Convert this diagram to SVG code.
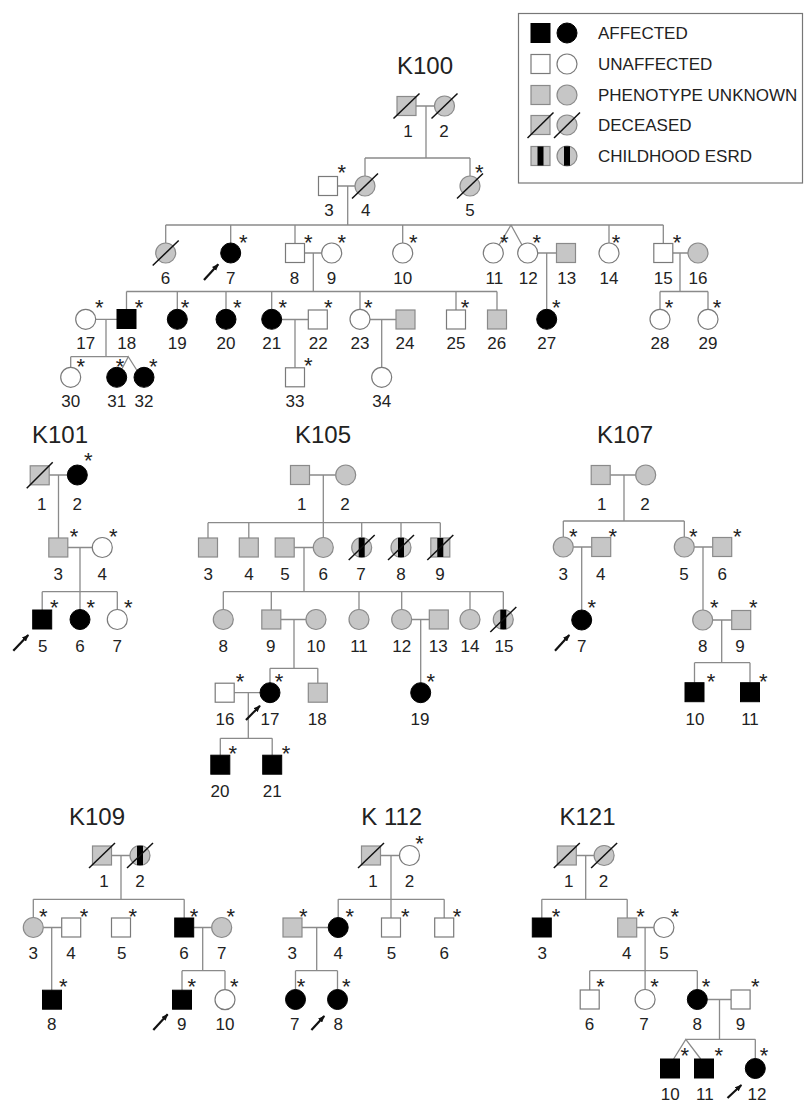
<svg xmlns="http://www.w3.org/2000/svg" width="805" height="1102" viewBox="0 0 805 1102">
<defs>
<style>
.ln{stroke:#8a8a8a;stroke-width:1.3;fill:none}
.u{fill:#fff;stroke:#7a7a7a;stroke-width:1.2}
.a{fill:#000;stroke:#000;stroke-width:1}
.g{fill:#c6c6c6;stroke:#8a8a8a;stroke-width:1.2}
.d{stroke:#111;stroke-width:1.5}
.b{fill:#000}
.t{font-family:"Liberation Sans",Arial,sans-serif;font-size:17px;fill:#222;text-anchor:middle}
.s{font-family:"Liberation Sans",Arial,sans-serif;font-size:22px;fill:#222;text-anchor:middle}
.h{font-family:"Liberation Sans",Arial,sans-serif;font-size:24px;fill:#222;text-anchor:middle}
.lg{font-family:"Liberation Sans",Arial,sans-serif;font-size:17px;fill:#222}
.ar{stroke:#111;stroke-width:2.2;marker-end:url(#ah)}
</style>
<marker id="ah" viewBox="0 0 10 8" refX="9" refY="4" markerWidth="7" markerHeight="6" markerUnits="userSpaceOnUse" orient="auto"><path d="M0,0 L10,4 L0,8 z" fill="#111"/></marker>
</defs>
<rect width="805" height="1102" fill="#fff"/>

<g id="legend">
<rect x="518.5" y="13.5" width="284" height="169.5" fill="#fff" stroke="#777" stroke-width="1.2"/>
<rect class="a" x="531" y="23.5" width="19" height="19"/><circle class="a" cx="567" cy="33" r="10"/><text class="lg" x="598" y="39">AFFECTED</text>
<rect class="u" x="531" y="54.5" width="19" height="19"/><circle class="u" cx="567" cy="64" r="10"/><text class="lg" x="598" y="70">UNAFFECTED</text>
<rect class="g" x="531" y="85.5" width="19" height="19"/><circle class="g" cx="567" cy="95" r="10"/><text class="lg" x="598" y="101">PHENOTYPE UNKNOWN</text>
<rect class="g" x="531" y="115.5" width="19" height="19"/><line class="d" x1="527.5" y1="138" x2="553.5" y2="112.5"/><circle class="g" cx="567" cy="125" r="10"/><line class="d" x1="554" y1="138" x2="580" y2="112.5"/><text class="lg" x="598" y="131">DECEASED</text>
<rect class="g" x="531" y="146.5" width="19" height="19"/><rect class="b" x="537.5" y="146.5" width="6" height="19"/><circle class="g" cx="567" cy="156" r="10"/><rect class="b" x="564" y="146.3" width="6" height="19.4"/><text class="lg" x="598" y="162">CHILDHOOD ESRD</text>
</g>

<g id="titles">
<text class="h" x="425" y="74">K100</text>
<text class="h" x="60" y="443">K101</text>
<text class="h" x="323" y="443">K105</text>
<text class="h" x="625" y="443">K107</text>
<text class="h" x="97" y="825">K109</text>
<text class="h" x="391.7" y="825">K 112</text>
<text class="h" x="587.5" y="825">K121</text>
</g>

<g id="connectors">
<path class="ln" d="M416 106H434.5M426 106V158M365 158H470M365 158V176M470 158V176M337.5 186H355M347.7 186V225M165.7 225H663.3M165.7 225V243M230.7 225V243M295 225V243.5M402.7 225V243M609 225V243M663.3 225V243.5M499 245L511 225L522 245M304.5 253H321.7M313.3 253V291.5M126.5 291.5H497M126.5 291.5V309.5M177.3 291.5V309.3M226 291.5V309.3M271.7 291.5V309.3M360 291.5V309.3M456 291.5V310M497 291.5V310M537.7 253H556.5M546.7 253V309.3M672.8 253H688M680 253V291.5M660 291.5H708M660 291.5V309.3M708 291.5V309.3M95.7 319.3H117M106 319.3V356.7M70.7 356.7H128.3M70.7 356.7V367.3M121.7 369.3L128.3 356.7L136.7 370M281.7 319.5H308.3M295 319.5V367.8M370 319.5H396M381.7 319.5V367.3"/>
<path class="ln" d="M49.2 475H67.3M58.5 475V538M67.8 547.5H92.3M80 547.5V591.7M42.2 591.7H117.3M42.2 591.7V610M80 591.7V609.5M117.3 591.7V609.5"/>
<path class="ln" d="M309.5 475H335.7M323.3 475V522.7M208 522.7H440.3M208 522.7V538M248.8 522.7V538M323.3 522.7V537.5M361.7 522.7V537.5M401 522.7V537.5M440.3 522.7V538M294.2 547.5H313.3M304 547.5V591.7M223.3 591.7H503.3M223.3 591.7V609.5M271.3 591.7V610M359 591.7V609.5M401.7 591.7V609.5M470 591.7V609.5M503.3 591.7V609.5M281 619.5H306M294 619.5V668.3M270 668.3H317.8M270 668.3V682.7M317.8 668.3V683.2M411.7 619.5H429.3M420.7 619.5V682.7M234.2 692.7H260M248.3 692.7V738.3M220.3 738.3H272.2M220.3 738.3V755.2M272.2 738.3V755.2"/>
<path class="ln" d="M610.2 475H635.7M624 475V521M563.3 521H684.3M563.3 521V537M684.3 521V537M573.3 547H591.7M581.7 547V610M694.3 547H712.7M703 547V610M712.7 620H731.7M721.7 620V662.7M694.5 662.7H750M694.5 662.7V682.7M750 662.7V682.7"/>
<path class="ln" d="M111.5 855.5H130M121 855.5V899.3M33.3 899.3H184.2M33.3 899.3V917.5M184.2 899.3V918M43.3 927.5H61.7M51.7 927.5V990.2M193.7 927.5H211.7M202.7 927.5V970.7M182 970.7H225M182 970.7V990.2M225 970.7V989.7"/>
<path class="ln" d="M380.5 855.5H399.5M391 855.5V899.3M338.2 899.3H444.2M338.2 899.3V917.5M391 899.3V918M444.2 899.3V918M302 927.5H328.2M316.7 927.5V970.7M295.5 970.7H337.5M295.5 970.7V989.5M337.5 970.7V989.5"/>
<path class="ln" d="M576.3 855.5H594.1M585.7 855.5V899.3M541.8 899.3H627.2M541.8 899.3V918M627.2 899.3V918M636.7 927.5H653.9M645.1 927.5V970.7M589.7 970.7H697.3M589.7 970.7V990M645.1 970.7V989.5M697.3 970.7V989.5M707.3 999.5H731.1M719.5 999.5V1039.3M685.8 1039.3H755.3M755.3 1039.3V1058.5M673.6 1059L685.8 1039.3L700.7 1059"/>
</g>

<g id="k100">
<g id="k100-1"><rect class="g" x="397" y="96.5" width="19" height="19"/><line class="d" x1="393.5" y1="118.5" x2="419.5" y2="93.5"/><text class="t" x="408" y="137">1</text></g>
<g id="k100-2"><circle class="g" cx="444.5" cy="106" r="10"/><line class="d" x1="431.5" y1="118.5" x2="457.5" y2="93.5"/><text class="t" x="444" y="137">2</text></g>
<g id="k100-3"><rect class="u" x="318.5" y="176.5" width="19" height="19"/><text class="s" x="341.7" y="179.5">*</text><text class="t" x="329" y="216">3</text></g>
<g id="k100-4"><circle class="g" cx="365" cy="186" r="10"/><line class="d" x1="352" y1="198.5" x2="378" y2="173.5"/><text class="t" x="365.7" y="216">4</text></g>
<g id="k100-5"><circle class="g" cx="470" cy="186" r="10"/><line class="d" x1="457" y1="198.5" x2="483" y2="173.5"/><text class="s" x="479.3" y="179.5">*</text><text class="t" x="470" y="216">5</text></g>
<g id="k100-6"><circle class="g" cx="165.7" cy="253" r="10"/><line class="d" x1="152.7" y1="265.5" x2="178.7" y2="240.5"/><text class="t" x="165.5" y="283.5">6</text></g>
<g id="k100-7"><circle class="a" cx="230.7" cy="253" r="10"/><text class="s" x="243.3" y="249.5">*</text><text class="t" x="230.7" y="283.5">7</text><line class="ar" x1="204" y1="280" x2="218.3" y2="264.3"/></g>
<g id="k100-8"><rect class="u" x="285.5" y="243.5" width="19" height="19"/><text class="s" x="308.3" y="249.5">*</text><text class="t" x="294.5" y="283.5">8</text></g>
<g id="k100-9"><circle class="u" cx="331.7" cy="253" r="10"/><text class="s" x="341.7" y="249.5">*</text><text class="t" x="331.5" y="283.5">9</text></g>
<g id="k100-10"><circle class="u" cx="402.7" cy="253" r="10"/><text class="s" x="413.3" y="249.5">*</text><text class="t" x="402.7" y="283.5">10</text></g>
<g id="k100-11"><circle class="u" cx="493.3" cy="253" r="10"/><text class="s" x="504.3" y="249.5">*</text><text class="t" x="494.3" y="283.5">11</text></g>
<g id="k100-12"><circle class="u" cx="527.7" cy="253" r="10"/><text class="s" x="536.7" y="249.5">*</text><text class="t" x="528.3" y="283.5">12</text></g>
<g id="k100-13"><rect class="g" x="556.5" y="243.5" width="19" height="19"/><text class="t" x="566.7" y="283.5">13</text></g>
<g id="k100-14"><circle class="u" cx="609" cy="253" r="10"/><text class="s" x="616" y="249.5">*</text><text class="t" x="609" y="283.5">14</text></g>
<g id="k100-15"><rect class="u" x="653.8" y="243.5" width="19" height="19"/><text class="s" x="677" y="249.5">*</text><text class="t" x="663.3" y="283.5">15</text></g>
<g id="k100-16"><circle class="g" cx="698" cy="253" r="10"/><text class="t" x="698" y="283.5">16</text></g>
<g id="k100-17"><circle class="u" cx="85.7" cy="319.3" r="10"/><text class="s" x="99.3" y="315.2">*</text><text class="t" x="85.7" y="348.5">17</text></g>
<g id="k100-18"><rect class="a" x="117" y="309.5" width="19" height="19"/><text class="s" x="139" y="315.2">*</text><text class="t" x="126.7" y="348.5">18</text></g>
<g id="k100-19"><circle class="a" cx="177.3" cy="319.3" r="10"/><text class="s" x="185" y="315.2">*</text><text class="t" x="177.3" y="348.5">19</text></g>
<g id="k100-20"><circle class="a" cx="226" cy="319.3" r="10"/><text class="s" x="237.3" y="315.2">*</text><text class="t" x="226" y="348.5">20</text></g>
<g id="k100-21"><circle class="a" cx="271.7" cy="319.3" r="10"/><text class="s" x="282.7" y="315.2">*</text><text class="t" x="271.7" y="348.5">21</text></g>
<g id="k100-22"><rect class="u" x="308.3" y="310" width="19" height="19"/><text class="s" x="328.3" y="315.2">*</text><text class="t" x="318.3" y="348.5">22</text></g>
<g id="k100-23"><circle class="u" cx="360" cy="319.3" r="10"/><text class="s" x="368.3" y="315.2">*</text><text class="t" x="360" y="348.5">23</text></g>
<g id="k100-24"><rect class="g" x="396" y="310" width="19" height="19"/><text class="t" x="405" y="348.5">24</text></g>
<g id="k100-25"><rect class="u" x="446.5" y="310" width="19" height="19"/><text class="s" x="465" y="315.2">*</text><text class="t" x="456" y="348.5">25</text></g>
<g id="k100-26"><rect class="g" x="487.5" y="310" width="19" height="19"/><text class="t" x="496.7" y="348.5">26</text></g>
<g id="k100-27"><circle class="a" cx="546.7" cy="319.3" r="10"/><text class="s" x="556.3" y="315.2">*</text><text class="t" x="546.7" y="348.5">27</text></g>
<g id="k100-28"><circle class="u" cx="660" cy="319.3" r="10"/><text class="s" x="669" y="315.2">*</text><text class="t" x="660" y="348.5">28</text></g>
<g id="k100-29"><circle class="u" cx="708" cy="319.3" r="10"/><text class="s" x="717" y="315.2">*</text><text class="t" x="708" y="348.5">29</text></g>
<g id="k100-30"><circle class="u" cx="70.7" cy="377.3" r="10"/><text class="s" x="80.7" y="374.2">*</text><text class="t" x="70.7" y="406.5">30</text></g>
<g id="k100-31"><circle class="a" cx="116.7" cy="377.3" r="10" fill="#1a1a1a"/><text class="s" x="120" y="374.2">*</text><text class="t" x="116.7" y="406.5">31</text></g>
<g id="k100-32"><circle class="a" cx="144" cy="377.3" r="10"/><text class="s" x="153.3" y="374.2">*</text><text class="t" x="144" y="406.5">32</text></g>
<g id="k100-33"><rect class="u" x="285.5" y="367.8" width="19" height="19"/><text class="s" x="308.3" y="372.5">*</text><text class="t" x="295" y="406.5">33</text></g>
<g id="k100-34"><circle class="u" cx="381.7" cy="377.3" r="10"/><text class="t" x="381.7" y="406.5">34</text></g>
</g>

<g id="k101">
<g id="k101-1"><rect class="g" x="30.2" y="465.8" width="19" height="19"/><line class="d" x1="26.7" y1="488.3" x2="52.7" y2="462.3"/><text class="t" x="41.7" y="510">1</text></g>
<g id="k101-2"><circle class="a" cx="77.3" cy="475" r="10"/><text class="s" x="88.3" y="467.5">*</text><text class="t" x="77.3" y="510">2</text></g>
<g id="k101-3"><rect class="g" x="48.8" y="538" width="19" height="19"/><text class="s" x="74" y="544.2">*</text><text class="t" x="58.3" y="580">3</text></g>
<g id="k101-4"><circle class="u" cx="102.3" cy="547.5" r="10"/><text class="s" x="113.3" y="544.2">*</text><text class="t" x="102.3" y="580">4</text></g>
<g id="k101-5"><rect class="a" x="32.7" y="610" width="19" height="19"/><text class="s" x="54.3" y="615.2">*</text><text class="t" x="42.7" y="651.7">5</text><line class="ar" x1="13.3" y1="650.7" x2="28.3" y2="635"/></g>
<g id="k101-6"><circle class="a" cx="80" cy="619.5" r="10"/><text class="s" x="90.7" y="615.2">*</text><text class="t" x="80" y="651.7">6</text></g>
<g id="k101-7"><circle class="u" cx="117.3" cy="619.5" r="10"/><text class="s" x="128.3" y="615.2">*</text><text class="t" x="117.3" y="651.7">7</text></g>
</g>

<g id="k105">
<g id="k105-1"><rect class="g" x="290.5" y="465.5" width="19" height="19"/><text class="t" x="301.7" y="510">1</text></g>
<g id="k105-2"><circle class="g" cx="345.7" cy="475" r="10"/><text class="t" x="345" y="510">2</text></g>
<g id="k105-3"><rect class="g" x="198.5" y="538" width="19" height="19"/><text class="t" x="208.3" y="580">3</text></g>
<g id="k105-4"><rect class="g" x="239.3" y="538" width="19" height="19"/><text class="t" x="249" y="580">4</text></g>
<g id="k105-5"><rect class="g" x="275.2" y="538" width="19" height="19"/><text class="t" x="285" y="580">5</text></g>
<g id="k105-6"><circle class="g" cx="323.3" cy="547.5" r="10"/><text class="t" x="323.3" y="580">6</text></g>
<g id="k105-7"><circle class="g" cx="361.7" cy="547.5" r="10"/><rect class="b" x="358.7" y="537.8" width="6" height="19.4"/><line class="d" x1="348.7" y1="560" x2="374.7" y2="535"/><text class="t" x="361" y="580">7</text></g>
<g id="k105-8"><circle class="g" cx="401" cy="547.5" r="10"/><rect class="b" x="398" y="537.8" width="6" height="19.4"/><line class="d" x1="388" y1="560" x2="414" y2="535"/><text class="t" x="401" y="580">8</text></g>
<g id="k105-9"><rect class="g" x="430.8" y="538" width="19" height="19"/><rect class="b" x="437.3" y="538" width="6" height="19"/><line class="d" x1="427.3" y1="560" x2="453.3" y2="535"/><text class="t" x="440" y="580">9</text></g>
<g id="k105-8b"><circle class="g" cx="223.3" cy="619.5" r="10"/><text class="t" x="223.3" y="651.7">8</text></g>
<g id="k105-9b"><rect class="g" x="261.8" y="610" width="19" height="19"/><text class="t" x="270.7" y="651.7">9</text></g>
<g id="k105-10"><circle class="g" cx="316" cy="619.5" r="10"/><text class="t" x="316" y="651.7">10</text></g>
<g id="k105-11"><circle class="g" cx="359" cy="619.5" r="10"/><text class="t" x="359" y="651.7">11</text></g>
<g id="k105-12"><circle class="g" cx="401.7" cy="619.5" r="10"/><text class="t" x="401.7" y="651.7">12</text></g>
<g id="k105-13"><rect class="g" x="429.3" y="610" width="19" height="19"/><text class="t" x="438.3" y="651.7">13</text></g>
<g id="k105-14"><circle class="g" cx="470" cy="619.5" r="10"/><text class="t" x="470" y="651.7">14</text></g>
<g id="k105-15"><circle class="g" cx="503.3" cy="619.5" r="10"/><rect class="b" x="500.3" y="609.8" width="6" height="19.4"/><line class="d" x1="490.3" y1="632" x2="516.3" y2="607"/><text class="t" x="504" y="651.7">15</text></g>
<g id="k105-16"><rect class="u" x="215.2" y="683.2" width="19" height="19"/><text class="s" x="240" y="688.5">*</text><text class="t" x="225" y="725">16</text></g>
<g id="k105-17"><circle class="a" cx="270" cy="692.7" r="10"/><text class="s" x="279" y="688.5">*</text><text class="t" x="270" y="725">17</text><line class="ar" x1="246" y1="720" x2="260" y2="705.7"/></g>
<g id="k105-18"><rect class="g" x="308.3" y="683.2" width="19" height="19"/><text class="t" x="317.3" y="725">18</text></g>
<g id="k105-19"><circle class="a" cx="420.7" cy="692.7" r="10"/><text class="s" x="430.7" y="688.5">*</text><text class="t" x="420" y="725">19</text></g>
<g id="k105-20"><rect class="a" x="210.8" y="755.2" width="19" height="19"/><text class="s" x="232.7" y="760.8">*</text><text class="t" x="220" y="796.7">20</text></g>
<g id="k105-21"><rect class="a" x="262.7" y="755.2" width="19" height="19"/><text class="s" x="286" y="760.8">*</text><text class="t" x="272.3" y="796.7">21</text></g>
</g>

<g id="k107">
<g id="k107-1"><rect class="g" x="591.2" y="465.5" width="19" height="19"/><text class="t" x="601.7" y="510">1</text></g>
<g id="k107-2"><circle class="g" cx="645.7" cy="475" r="10"/><text class="t" x="645" y="510">2</text></g>
<g id="k107-3"><circle class="g" cx="563.3" cy="547" r="10"/><text class="s" x="573.3" y="543.5">*</text><text class="t" x="563.3" y="580">3</text></g>
<g id="k107-4"><rect class="g" x="591.7" y="537.5" width="19" height="19"/><text class="s" x="612.7" y="543.5">*</text><text class="t" x="600.7" y="580">4</text></g>
<g id="k107-5"><circle class="g" cx="684.3" cy="547" r="10"/><text class="s" x="693.3" y="543.5">*</text><text class="t" x="684" y="580">5</text></g>
<g id="k107-6"><rect class="g" x="712.7" y="537.5" width="19" height="19"/><text class="s" x="737.3" y="543.5">*</text><text class="t" x="722.3" y="580">6</text></g>
<g id="k107-7"><circle class="a" cx="581.7" cy="620" r="10"/><text class="s" x="591.7" y="615.2">*</text><text class="t" x="581.7" y="651.7">7</text><line class="ar" x1="555" y1="650.7" x2="569.3" y2="635"/></g>
<g id="k107-8"><circle class="g" cx="702.7" cy="620" r="10"/><text class="s" x="714.3" y="615.2">*</text><text class="t" x="702.7" y="651.7">8</text></g>
<g id="k107-9"><rect class="g" x="731.7" y="610.5" width="19" height="19"/><text class="s" x="753.3" y="615.2">*</text><text class="t" x="740" y="651.7">9</text></g>
<g id="k107-10"><rect class="a" x="685" y="682.7" width="19" height="19"/><text class="s" x="711" y="688.5">*</text><text class="t" x="695" y="725">10</text></g>
<g id="k107-11"><rect class="a" x="740.5" y="682.7" width="19" height="19"/><text class="s" x="763.3" y="688.5">*</text><text class="t" x="750" y="725">11</text></g>
</g>

<g id="k109">
<g id="k109-1"><rect class="g" x="92.5" y="846" width="19" height="19"/><line class="d" x1="89" y1="868" x2="115" y2="843"/><text class="t" x="104" y="887.3">1</text></g>
<g id="k109-2"><circle class="g" cx="140" cy="855.5" r="10"/><rect class="b" x="137" y="845.8" width="6" height="19.4"/><line class="d" x1="127" y1="868" x2="153" y2="843"/><text class="t" x="140" y="887.3">2</text></g>
<g id="k109-3"><circle class="g" cx="33.3" cy="927.5" r="10"/><text class="s" x="43.3" y="924.2">*</text><text class="t" x="33.3" y="959.3">3</text></g>
<g id="k109-4"><rect class="u" x="61.7" y="918" width="19" height="19"/><text class="s" x="84" y="924.2">*</text><text class="t" x="71" y="959.3">4</text></g>
<g id="k109-5"><rect class="u" x="111.5" y="918" width="19" height="19"/><text class="s" x="132.7" y="924.2">*</text><text class="t" x="121.7" y="959.3">5</text></g>
<g id="k109-6"><rect class="a" x="174.7" y="918" width="19" height="19"/><text class="s" x="194" y="924.2">*</text><text class="t" x="184" y="959.3">6</text></g>
<g id="k109-7"><circle class="g" cx="221.7" cy="927.5" r="10"/><text class="s" x="230.7" y="924.2">*</text><text class="t" x="221.7" y="959.3">7</text></g>
<g id="k109-8"><rect class="a" x="42.5" y="990.2" width="19" height="19"/><text class="s" x="63.3" y="993.5">*</text><text class="t" x="51.7" y="1030">8</text></g>
<g id="k109-9"><rect class="a" x="172.5" y="990.2" width="19" height="19"/><text class="s" x="191.7" y="993.5">*</text><text class="t" x="181.7" y="1030">9</text><line class="ar" x1="153.3" y1="1030" x2="167.7" y2="1014.3"/></g>
<g id="k109-10"><circle class="u" cx="225" cy="999.7" r="10"/><text class="s" x="234.3" y="993.5">*</text><text class="t" x="225" y="1030">10</text></g>
</g>

<g id="k112">
<g id="k112-1"><rect class="g" x="361.5" y="846" width="19" height="19"/><line class="d" x1="358" y1="868" x2="384" y2="843"/><text class="t" x="373" y="887.3">1</text></g>
<g id="k112-2"><circle class="u" cx="409.5" cy="855.5" r="10"/><text class="s" x="419.5" y="851">*</text><text class="t" x="409.5" y="887.3">2</text></g>
<g id="k112-3"><rect class="g" x="283" y="918" width="19" height="19"/><text class="s" x="303.4" y="924.2">*</text><text class="t" x="292.3" y="959.3">3</text></g>
<g id="k112-4"><circle class="a" cx="338.2" cy="927.5" r="10"/><text class="s" x="349.7" y="924.2">*</text><text class="t" x="338.2" y="959.3">4</text></g>
<g id="k112-5"><rect class="u" x="381.5" y="918" width="19" height="19"/><text class="s" x="405.3" y="924.2">*</text><text class="t" x="391.4" y="959.3">5</text></g>
<g id="k112-6"><rect class="u" x="434.7" y="918" width="19" height="19"/><text class="s" x="457.1" y="924.2">*</text><text class="t" x="444.2" y="959.3">6</text></g>
<g id="k112-7"><circle class="a" cx="295.5" cy="999.5" r="10"/><text class="s" x="301" y="993.5">*</text><text class="t" x="294.8" y="1030">7</text></g>
<g id="k112-8"><circle class="a" cx="337.5" cy="999.5" r="10"/><text class="s" x="346.2" y="993.5">*</text><text class="t" x="338.2" y="1030">8</text><line class="ar" x1="311.4" y1="1030" x2="324.3" y2="1016"/></g>
</g>

<g id="k121">
<g id="k121-1"><rect class="g" x="557.3" y="846" width="19" height="19"/><line class="d" x1="553.8" y1="868" x2="579.8" y2="843"/><text class="t" x="568.7" y="887.3">1</text></g>
<g id="k121-2"><circle class="g" cx="604.1" cy="855.5" r="10"/><line class="d" x1="591.1" y1="868" x2="617.1" y2="843"/><text class="t" x="603.4" y="887.3">2</text></g>
<g id="k121-3"><rect class="a" x="532.3" y="918" width="19" height="19"/><text class="s" x="556.1" y="924.2">*</text><text class="t" x="542.2" y="959.3">3</text></g>
<g id="k121-4"><rect class="g" x="617.7" y="918" width="19" height="19"/><text class="s" x="640.6" y="924.2">*</text><text class="t" x="626.7" y="959.3">4</text></g>
<g id="k121-5"><circle class="u" cx="663.9" cy="927.5" r="10"/><text class="s" x="674.7" y="924.2">*</text><text class="t" x="663.9" y="959.3">5</text></g>
<g id="k121-6"><rect class="u" x="580.2" y="990" width="19" height="19"/><text class="s" x="600.6" y="993.5">*</text><text class="t" x="589.5" y="1030">6</text></g>
<g id="k121-7"><circle class="u" cx="645.1" cy="999.5" r="10"/><text class="s" x="654.5" y="993.5">*</text><text class="t" x="644.1" y="1030">7</text></g>
<g id="k121-8"><circle class="a" cx="697.3" cy="999.5" r="10"/><text class="s" x="706" y="993.5">*</text><text class="t" x="697.3" y="1030">8</text></g>
<g id="k121-9"><rect class="u" x="731.1" y="990" width="19" height="19"/><text class="s" x="755.3" y="993.5">*</text><text class="t" x="740.4" y="1030">9</text></g>
<g id="k121-10"><rect class="a" x="660.5" y="1059" width="19" height="19"/><text class="s" x="684.7" y="1062.5">*</text><text class="t" x="670.2" y="1100">10</text></g>
<g id="k121-11"><rect class="a" x="694.5" y="1059" width="19" height="19"/><text class="s" x="718.8" y="1062.5">*</text><text class="t" x="704.9" y="1100">11</text></g>
<g id="k121-12"><circle class="a" cx="755.3" cy="1068.5" r="10"/><text class="s" x="764" y="1062.5">*</text><text class="t" x="757" y="1100">12</text><line class="ar" x1="727.5" y1="1098" x2="741.4" y2="1085"/></g>
</g>
</svg>
